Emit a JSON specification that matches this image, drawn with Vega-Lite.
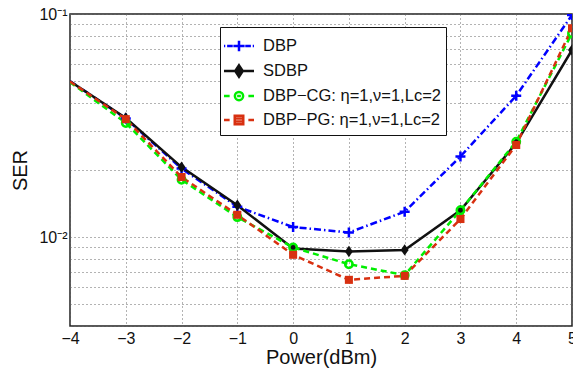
{
  "$schema": "https://vega.github.io/schema/vega-lite/v6.json",
  "width": 502,
  "height": 312,
  "autosize": {"type": "none"},
  "padding": {"left": 70, "top": 14, "right": 1, "bottom": 48},
  "background": "white",
  "config": {
    "view": {"stroke": "#222", "strokeWidth": 1.5},
    "font": "Liberation Sans"
  },
  "data": {
    "values": [
      {"series": "DBP", "x": -4, "y": 0.05},
      {"series": "DBP", "x": -3, "y": 0.034},
      {"series": "DBP", "x": -2, "y": 0.0203},
      {"series": "DBP", "x": -1, "y": 0.0137},
      {"series": "DBP", "x": 0, "y": 0.0111},
      {"series": "DBP", "x": 1, "y": 0.0105},
      {"series": "DBP", "x": 2, "y": 0.013},
      {"series": "DBP", "x": 3, "y": 0.023},
      {"series": "DBP", "x": 4, "y": 0.043},
      {"series": "DBP", "x": 5, "y": 0.099},
      {"series": "SDBP", "x": -4, "y": 0.05},
      {"series": "SDBP", "x": -3, "y": 0.0342},
      {"series": "SDBP", "x": -2, "y": 0.0206},
      {"series": "SDBP", "x": -1, "y": 0.0139},
      {"series": "SDBP", "x": 0, "y": 0.0089},
      {"series": "SDBP", "x": 1, "y": 0.00863},
      {"series": "SDBP", "x": 2, "y": 0.00877},
      {"series": "SDBP", "x": 3, "y": 0.0132},
      {"series": "SDBP", "x": 4, "y": 0.0264},
      {"series": "SDBP", "x": 5, "y": 0.069},
      {"series": "DBP−CG: η=1,ν=1,Lc=2", "x": -4, "y": 0.0495},
      {"series": "DBP−CG: η=1,ν=1,Lc=2", "x": -3, "y": 0.0325},
      {"series": "DBP−CG: η=1,ν=1,Lc=2", "x": -2, "y": 0.0181},
      {"series": "DBP−CG: η=1,ν=1,Lc=2", "x": -1, "y": 0.0123},
      {"series": "DBP−CG: η=1,ν=1,Lc=2", "x": 0, "y": 0.009},
      {"series": "DBP−CG: η=1,ν=1,Lc=2", "x": 1, "y": 0.00757},
      {"series": "DBP−CG: η=1,ν=1,Lc=2", "x": 2, "y": 0.00676},
      {"series": "DBP−CG: η=1,ν=1,Lc=2", "x": 3, "y": 0.0132},
      {"series": "DBP−CG: η=1,ν=1,Lc=2", "x": 4, "y": 0.0268},
      {"series": "DBP−CG: η=1,ν=1,Lc=2", "x": 5, "y": 0.082},
      {"series": "DBP−PG: η=1,ν=1,Lc=2", "x": -4, "y": 0.0498},
      {"series": "DBP−PG: η=1,ν=1,Lc=2", "x": -3, "y": 0.0338},
      {"series": "DBP−PG: η=1,ν=1,Lc=2", "x": -2, "y": 0.0186},
      {"series": "DBP−PG: η=1,ν=1,Lc=2", "x": -1, "y": 0.0126},
      {"series": "DBP−PG: η=1,ν=1,Lc=2", "x": 0, "y": 0.00834},
      {"series": "DBP−PG: η=1,ν=1,Lc=2", "x": 1, "y": 0.00644},
      {"series": "DBP−PG: η=1,ν=1,Lc=2", "x": 2, "y": 0.00671},
      {"series": "DBP−PG: η=1,ν=1,Lc=2", "x": 3, "y": 0.01206},
      {"series": "DBP−PG: η=1,ν=1,Lc=2", "x": 4, "y": 0.0259},
      {"series": "DBP−PG: η=1,ν=1,Lc=2", "x": 5, "y": 0.0863}
    ]
  },
  "encoding": {
    "x": {
      "field": "x", "type": "quantitative",
      "scale": {"domain": [-4, 5], "nice": false},
      "axis": {
        "values": [-4, -3, -2, -1, 0, 1, 2, 3, 4, 5],
        "title": "Power(dBm)", "titleFontSize": 20, "titleFontWeight": "normal", "titleColor": "#111", "titlePadding": 1,
        "labelFontSize": 16, "labelColor": "#111", "labelPadding": 4, "labelFlush": false,
        "domain": false, "ticks": false,
        "grid": true, "gridColor": "#666", "gridDash": [1, 3], "gridWidth": 1
      }
    },
    "y": {
      "field": "y", "type": "quantitative",
      "scale": {"type": "log", "domain": [0.004, 0.1], "nice": false},
      "axis": {
        "values": [0.004, 0.005, 0.006, 0.007, 0.008, 0.009, 0.01, 0.02, 0.03, 0.04, 0.05, 0.06, 0.07, 0.08, 0.09, 0.1],
        "labelExpr": "abs(datum.value - 0.01) < 1e-9 ? '10⁻²' : abs(datum.value - 0.1) < 1e-9 ? '10⁻¹' : ''",
        "title": "SER", "titleFontSize": 20, "titleFontWeight": "normal", "titleColor": "#111", "titlePadding": 8,
        "labelFontSize": 16, "labelColor": "#111", "labelPadding": 3, "labelFlush": false,
        "domain": false, "ticks": false,
        "grid": true, "gridColor": "#666", "gridDash": [1, 3], "gridWidth": 1
      }
    }
  },
  "layer": [
    {
      "transform": [{"filter": {"field": "series", "equal": "DBP"}}],
      "mark": {"type": "line", "color": "#0000ff", "strokeWidth": 2.5, "strokeDash": [7, 3, 1.5, 3], "clip": true}
    },
    {
      "transform": [{"filter": {"field": "series", "equal": "SDBP"}}],
      "mark": {"type": "line", "color": "#111111", "strokeWidth": 2.5, "clip": true}
    },
    {
      "transform": [{"filter": {"field": "series", "equal": "DBP−CG: η=1,ν=1,Lc=2"}}],
      "mark": {"type": "line", "color": "#00ee00", "strokeWidth": 2.5, "strokeDash": [6, 4], "clip": true}
    },
    {
      "transform": [{"filter": {"field": "series", "equal": "DBP−PG: η=1,ν=1,Lc=2"}}],
      "mark": {"type": "line", "color": "#d83010", "strokeWidth": 2.5, "strokeDash": [6, 4], "clip": true}
    },
    {
      "transform": [{"filter": {"field": "series", "equal": "DBP"}}, {"filter": "datum.x > -4"}],
      "mark": {"type": "point", "shape": "M-1,0H1M0,-1V1", "filled": false, "color": "#0000ff", "strokeWidth": 2.5, "size": 100, "opacity": 1, "clip": true}
    },
    {
      "transform": [{"filter": {"field": "series", "equal": "SDBP"}}, {"filter": "datum.x > -4"}],
      "mark": {"type": "point", "shape": "M0,-1L0.7,0L0,1L-0.7,0Z", "filled": true, "color": "#111111", "size": 130, "opacity": 1, "clip": true}
    },
    {
      "transform": [{"filter": {"field": "series", "equal": "DBP−CG: η=1,ν=1,Lc=2"}}, {"filter": "datum.x > -4"}],
      "mark": {"type": "point", "shape": "circle", "filled": false, "color": "#00ee00", "strokeWidth": 2.5, "size": 55, "opacity": 1, "clip": true}
    },
    {
      "transform": [{"filter": {"field": "series", "equal": "DBP−PG: η=1,ν=1,Lc=2"}}, {"filter": "datum.x > -4"}],
      "mark": {"type": "point", "shape": "square", "filled": true, "color": "#d83010", "size": 65, "opacity": 1, "clip": true}
    },
    {
      "transform": [{"filter": "datum.x > 100"}],
      "mark": {"type": "point", "filled": false, "strokeWidth": 2.5, "opacity": 1},
      "encoding": {
        "stroke": {
          "field": "series", "type": "nominal", "sort": null,
          "scale": {
            "domain": ["DBP", "SDBP", "DBP−CG: η=1,ν=1,Lc=2", "DBP−PG: η=1,ν=1,Lc=2"],
            "range": ["#0000ff", "#111111", "#00ee00", "#d83010"]
          },
          "legend": {
            "title": null,
            "orient": "none",
            "legendX": 150,
            "legendY": 13,
            "padding": 5,
            "fillColor": "white",
            "strokeColor": "#111",
            "cornerRadius": 0,
            "labelFontSize": 16.5,
            "labelColor": "#111",
            "labelOffset": 10,
            "labelLimit": 400,
            "rowPadding": 0,
            "symbolSize": 625,
            "symbolStrokeWidth": 2.5,
            "symbolOpacity": 1
          }
        },
        "shape": {
          "field": "series", "type": "nominal", "sort": null,
          "scale": {
            "domain": ["DBP", "SDBP", "DBP−CG: η=1,ν=1,Lc=2", "DBP−PG: η=1,ν=1,Lc=2"],
            "range": [
              "M-1.2,0H-1.1M-0.95,0H-0.5M0.5,0H0.95M1.1,0H1.2M-0.45,0H0.45M0,-0.42V0.42",
              "M-1.2,0H1.2M0,-0.45L0.3,0L0,0.45L-0.3,0ZM-0.2,-0.15H0.2M-0.2,0.15H0.2M0,-0.35V0.35",
              "M-1.2,0H-0.75M0.75,0H1.2M0.33,0A0.33,0.33 0 1,1 -0.33,0A0.33,0.33 0 1,1 0.33,0ZM-0.15,0H0.15",
              "M-1.2,0H-0.75M0.75,0H1.2M-0.34,-0.34H0.34V0.34H-0.34ZM-0.34,-0.12H0.34M-0.34,0.12H0.34"
            ]
          },
          "legend": {
            "title": null,
            "orient": "none",
            "legendX": 150,
            "legendY": 13,
            "padding": 5,
            "fillColor": "white",
            "strokeColor": "#111",
            "cornerRadius": 0,
            "labelFontSize": 16.5,
            "labelColor": "#111",
            "labelOffset": 10,
            "labelLimit": 400,
            "rowPadding": 0,
            "symbolSize": 625,
            "symbolStrokeWidth": 2.5,
            "symbolOpacity": 1
          }
        }
      }
    }
  ]
}
